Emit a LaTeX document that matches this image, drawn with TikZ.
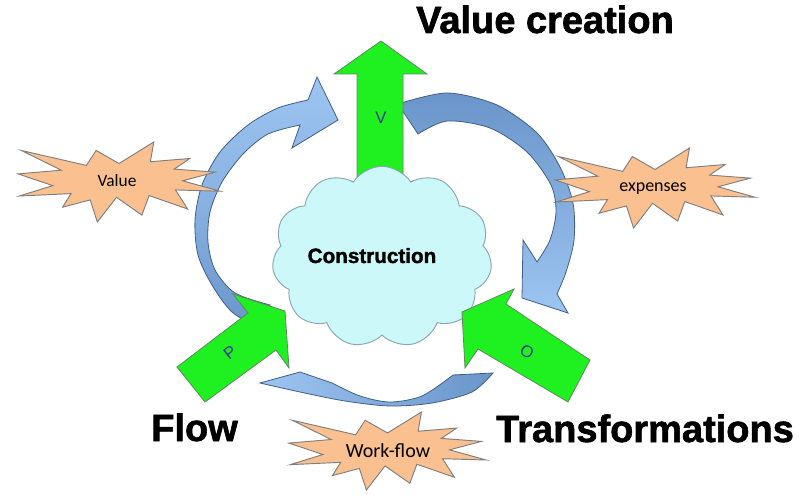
\documentclass[tikz,border=0pt]{standalone}
\usepackage{fontspec}
\setmainfont{Liberation Sans}
\newfontfamily\carl{Carlito}
\newfontfamily\heavy{Liberation Sans}[BoldFont={Liberation Sans Bold}, BoldFeatures={FakeBold=1.6}]
\usetikzlibrary{shapes.symbols}
\definecolor{grn}{HTML}{1FF01F}
\definecolor{grnedge}{HTML}{5E8A5E}
\definecolor{lblue}{HTML}{9DC5F2}
\definecolor{dblue}{HTML}{6A95CA}
\definecolor{bedge}{HTML}{3F5F88}
\definecolor{peach}{HTML}{FAC08F}
\definecolor{burstedge}{HTML}{7F7F7F}
\definecolor{cloudfill}{HTML}{CCF8FA}
\definecolor{cloudedge}{HTML}{8AA6B0}
\definecolor{navy}{HTML}{1F3B8F}
\tikzset{
  carrow/.style={draw=bedge, line width=0.6pt},
  garrow/.style={fill=grn, draw=grnedge, line width=0.6pt, line join=miter},
  burst/.style={fill=peach, draw=burstedge, line width=0.7pt},
  arrlbl/.style={font=\fontsize{12.5}{14}\selectfont, text=navy},
  bigtxt/.style={font=\heavy\bfseries\fontsize{28.5}{32}\selectfont, anchor=base},
  bursttxt/.style={font=\carl\fontsize{13}{15}\selectfont, anchor=base},
}
% explosion shape: x0 y0 w h
\newcommand\explosion[4]{%
  \draw[burst] ({#1+0.5*#3},{#2+0.2685*#4}) -- ({#1+0.6723*#3},{#2}) --
  ({#1+0.6553*#3},{#2+0.2465*#4}) -- ({#1+0.8509*#3},{#2+0.2063*#4}) --
  ({#1+0.7732*#3},{#2+0.3387*#4}) -- ({#1+0.9767*#3},{#2+0.3767*#4}) --
  ({#1+0.8151*#3},{#2+0.4850*#4}) -- ({#1+#3},{#2+0.6153*#4}) --
  ({#1+0.7795*#3},{#2+0.5992*#4}) -- ({#1+0.8400*#3},{#2+0.8377*#4}) --
  ({#1+0.6491*#3},{#2+0.6693*#4}) -- ({#1+0.6133*#3},{#2+0.9138*#4}) --
  ({#1+0.4876*#3},{#2+0.6914*#4}) -- ({#1+0.3928*#3},{#2+#4}) --
  ({#1+0.3572*#3},{#2+0.7235*#4}) -- ({#1+0.2205*#3},{#2+0.8156*#4}) --
  ({#1+0.2624*#3},{#2+0.6452*#4}) -- ({#1+0.0063*#3},{#2+0.6753*#4}) --
  ({#1+0.1723*#3},{#2+0.5451*#4}) -- ({#1},{#2+0.3988*#4}) --
  ({#1+0.2142*#3},{#2+0.3526*#4}) -- ({#1+0.0171*#3},{#2+0.1063*#4}) --
  ({#1+0.3385*#3},{#2+0.2926*#4}) -- ({#1+0.3867*#3},{#2+0.1063*#4}) -- cycle;}
\begin{document}
\begin{tikzpicture}[x=0.75pt,y=-0.75pt]
\useasboundingbox (0,0) rectangle (800,495);
\fill[white] (0,0) rectangle (800,495);

% ---- curved arrows ----
% left arrow (bottom to top, head pointing right)
\path[carrow, top color=lblue, bottom color=dblue, middle color=lblue!60!dblue]
  plot[smooth] coordinates {(262,330) (232,312) (212,285) (198,255) (195,220) (202,185) (220,152) (248,125) (278,108) (308,100)}
  -- (317,77) -- (338,120) -- (292,148) -- (300,125)
  -- plot[smooth] coordinates {(300,125) (268,134) (243,154) (222,182) (210,212) (208,242) (215,270) (235,293) (270,305)}
  -- cycle;
% top-right arrow (from V arrow, head pointing down-left)
\path[carrow, top color=dblue, bottom color=lblue, middle color=lblue!50!dblue]
  plot[smooth] coordinates {(398,104) (447,93) (497,105) (537,133) (560,167) (573,203) (574,240) (566,272) (557,294)}
  -- (568,313) -- (522,298) -- (523,240) -- (537,262)
  -- plot[smooth] coordinates {(537,262) (550,240) (556,212) (551,185) (527,152) (490,128) (447,121) (418,134)}
  -- cycle;
% bottom arrow (right to left, head pointing left)
\path[carrow, left color=lblue, right color=dblue]
  (260,383) -- (300,372) -- (332,383)
  -- plot[smooth] coordinates {(332,383) (360,396) (390,402) (422,396) (453,375)}
  -- (493,373)
  -- plot[smooth] coordinates {(493,373) (472,392) (432,403) (390,406) (345,401) (300,392) (260,383)}
  -- cycle;

% ---- V arrow (behind cloud) ----
\draw[garrow] (357,195) -- (357,74) -- (334,74) -- (381,41) -- (427,74) -- (403,74) -- (403,195) -- cycle;
\node[arrlbl] (vl) at (381,118) {V};

% ---- cloud ----
\node[cloud, cloud puffs=11, cloud puff arc=115, aspect=1.2, fill=cloudfill, draw=cloudedge,
  line width=0.7pt, minimum width=165pt, minimum height=136pt, inner sep=0pt] (cloud) at (382,257) {};
\node[font=\heavy\bfseries\fontsize{15.5}{18}\selectfont, anchor=base] (constr) at (372,263) {Construction};

% ---- P and O arrows ----
\draw[garrow] (177,367) -- (248,313) -- (233,294) -- (285,311) -- (289,368) -- (276,350) -- (205,402) -- cycle;
\node[arrlbl, rotate=38] (pl) at (230,353) {P};
\draw[garrow] (590,360) -- (506,304) -- (514,289) -- (462,312) -- (465,368) -- (478,349) -- (568,402) -- cycle;
\node[arrlbl, rotate=-30] (ol) at (527,352) {O};

% ---- starbursts ----
\explosion{18}{142}{202}{80}
\node[bursttxt] (value) at (117,187) {Value};
\explosion{555}{148}{200}{80}
\node[bursttxt, font=\carl\fontsize{13.5}{15}\selectfont] (exp) at (653,192) {expenses};
\explosion{289}{412}{197}{78}
\node[bursttxt, font=\carl\fontsize{15}{17}\selectfont] (wf) at (388,457) {Work-flow};

% ---- titles ----
\node[bigtxt] (vc) at (545,33) {Value creation};
\node[bigtxt] (flow) at (194.5,441) {Flow};
\node[bigtxt] (tr) at (645,442) {Transformations};
\end{tikzpicture}
\end{document}
